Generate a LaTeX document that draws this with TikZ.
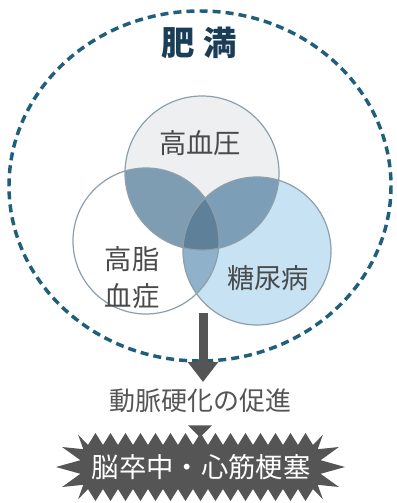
\documentclass[tikz,border=0pt]{standalone}
\usepackage{fontspec}
\newfontfamily\cjk{Noto Sans CJK JP}
\usetikzlibrary{arrows.meta,calc}
\definecolor{dashblue}{HTML}{1F5F7C}
\definecolor{titleblue}{HTML}{1A3D58}
\definecolor{topfill}{HTML}{EEEFF0}
\definecolor{rightfill}{HTML}{C7E2F3}
\definecolor{tlfill}{HTML}{7F9DB2}
\definecolor{trfill}{HTML}{7C9EB6}
\definecolor{lrfill}{HTML}{8FB1C9}
\definecolor{tlrfill}{HTML}{5E8199}
\definecolor{ringcol}{HTML}{8D9FAA}
\definecolor{txtgray}{HTML}{4A4A4A}
\definecolor{arrowgray}{HTML}{555555}
\tikzset{
  ring/.style={draw=ringcol, line width=0.9pt},
  vlabel/.style={text=txtgray, inner sep=0pt, align=center, font={\cjk\fontsize{20.5pt}{27.75pt}\selectfont}},
}
\begin{document}
\begin{tikzpicture}[x=0.75pt,y=-0.75pt,font=\cjk]
\useasboundingbox (0,0) rectangle (396,503);
\fill[white] (0,0) rectangle (396,503);
% centres
\coordinate (T) at (202,173);
\coordinate (L) at (146,241);
\coordinate (R) at (257,251);
% outer dashed ellipse
\draw[dashblue, line width=2.6pt, dash pattern=on 6pt off 3.8pt] (200,186) ellipse [x radius=191, y radius=175];
% fills
\fill[topfill] (T) circle (77);
\fill[white] (L) circle (73);
\fill[rightfill] (R) circle (74);
\begin{scope}
  \clip (T) circle (77);
  \fill[tlfill] (L) circle (73);
  \fill[trfill] (R) circle (74);
\end{scope}
\begin{scope}
  \clip (L) circle (73);
  \fill[lrfill] (R) circle (74);
\end{scope}
\begin{scope}
  \clip (T) circle (77);
  \clip (L) circle (73);
  \fill[tlrfill] (R) circle (74);
\end{scope}
\draw[ring] (T) circle (77);
\draw[ring] (L) circle (73);
\draw[ring] (R) circle (74);
% labels
\node[text=titleblue, inner sep=0pt, font={\cjk\bfseries\fontsize{25pt}{25pt}\selectfont}] (title) at (199,43) {肥\hspace{6pt}満};
\node[vlabel] (hbp) at (200,143) {高血圧};
\node[vlabel] (hl) at (132,278) {高脂\\血症};
\node[vlabel] (dm) at (268,278) {糖尿病};
\node[text=arrowgray, inner sep=0pt, font={\cjk\fontsize{19.5pt}{19.5pt}\selectfont}] (athero) at (200,401) {動脈硬化の促進};
\coordinate (lensbottom) at (203,313);
\draw[arrowgray, line width=6.75pt, -{Triangle[width=22pt,length=15pt]}] (lensbottom) -- (lensbottom |- 0,382);
% burst
\coordinate (B) at (201,467);
\fill[arrowgray] (88,445)
  \foreach \i in {0,...,14} { -- ({95.5+15*\i},433) -- ({103+15*\i},445) }
  \foreach \a in {-72,-36,0,36,72} { -- ({313+32*cos(\a)},{467+34*sin(\a)}) -- ({313+8*cos(\a+18)},{467+22*sin(\a+18)}) }
  \foreach \i in {0,...,14} { -- ({305.5-15*\i},501) -- ({298-15*\i},489) }
  \foreach \a in {108,144,180,216,252} { -- ({88+32*cos(\a)},{467+34*sin(\a)}) -- ({88+8*cos(\a+18)},{467+22*sin(\a+18)}) }
  -- cycle;
\node[text=white, inner sep=0pt, font={\cjk\fontsize{20.5pt}{20.5pt}\selectfont}] (burst) at (B) {脳卒中・心筋梗塞};
\fill[arrowgray] ($(athero.south)+(-12,12)$) -- ($(athero.south)+(12,12)$) -- ($(athero.south)+(0,24)$) -- cycle;
\end{tikzpicture}
\end{document}
